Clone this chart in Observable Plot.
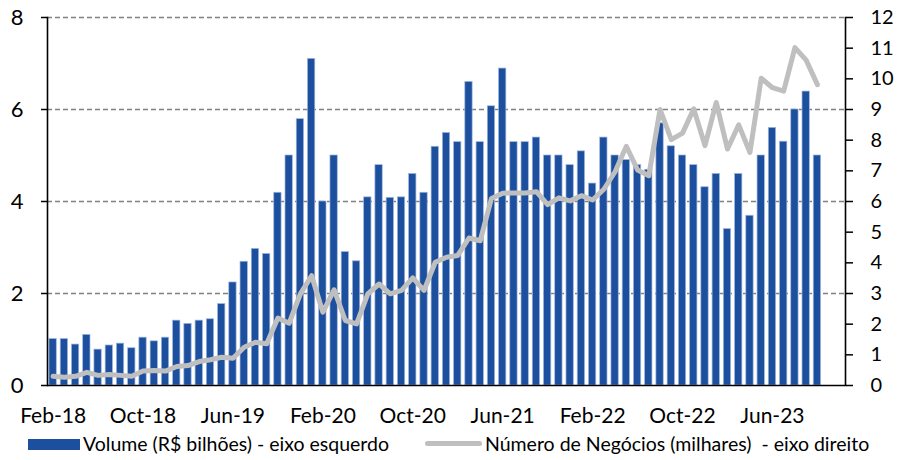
<!DOCTYPE html>
<html><head><meta charset="utf-8">
<script src="https://cdn.jsdelivr.net/npm/d3@7"></script>
<script src="https://cdn.jsdelivr.net/npm/@observablehq/plot@0.6"></script>
<style>
body{margin:0;background:#fff;font-family:Lato,sans-serif;}
#wrap{position:relative;width:898px;height:460px;overflow:hidden;background:#fff}
.leg{position:absolute;font-size:19.5px;color:#000;white-space:pre;line-height:20px;font-family:Lato,sans-serif}
.sw{position:absolute}
</style></head><body><div id="wrap"></div>
<script>
const months = [
"Feb-18","Mar-18","Apr-18","May-18","Jun-18","Jul-18","Aug-18","Sep-18","Oct-18","Nov-18","Dec-18",
"Jan-19","Feb-19","Mar-19","Apr-19","May-19","Jun-19","Jul-19","Aug-19","Sep-19","Oct-19","Nov-19","Dec-19",
"Jan-20","Feb-20","Mar-20","Apr-20","May-20","Jun-20","Jul-20","Aug-20","Sep-20","Oct-20","Nov-20","Dec-20",
"Jan-21","Feb-21","Mar-21","Apr-21","May-21","Jun-21","Jul-21","Aug-21","Sep-21","Oct-21","Nov-21","Dec-21",
"Jan-22","Feb-22","Mar-22","Apr-22","May-22","Jun-22","Jul-22","Aug-22","Sep-22","Oct-22","Nov-22","Dec-22",
"Jan-23","Feb-23","Mar-23","Apr-23","May-23","Jun-23","Jul-23","Aug-23","Sep-23","Oct-23","Nov-23","Dec-23"];

// Volume (R$ bilhões) - left axis
const volume = [1.01,1.01,0.89,1.10,0.78,0.87,0.91,0.81,1.04,0.96,1.04,
1.41,1.34,1.41,1.44,1.77,2.24,2.69,2.97,2.86,4.19,5.0,
5.79,7.10,4.0,5.0,2.9,2.7,4.09,4.79,4.08,4.09,4.6,
4.19,5.19,5.49,5.29,6.6,5.29,6.07,6.89,5.29,5.29,5.39,
5.0,5.0,4.79,5.09,4.39,5.39,5.0,4.9,4.79,4.69,5.7,
5.2,5.0,4.79,4.31,4.6,3.4,4.6,3.69,5.0,5.6,5.3,
6.0,6.39,5.0];

// Número de Negócios (milhares) - right axis
const trades = [0.30,0.27,0.30,0.43,0.33,0.36,0.33,0.30,0.47,0.49,0.47,
0.62,0.65,0.78,0.84,0.92,0.89,1.25,1.41,1.36,2.20,2.03,
2.99,3.58,2.39,3.12,2.12,2.01,2.99,3.31,2.99,3.10,3.51,
3.10,4.02,4.18,4.24,4.81,4.72,6.10,6.27,6.28,6.28,6.32,
5.90,6.12,6.02,6.19,6.05,6.40,6.97,7.8,7.03,6.84,9.0,
8.02,8.23,9.02,7.82,9.23,7.71,8.5,7.6,10.02,9.71,9.6,
11.02,10.61,9.81];

const xTickLabels = ["Feb-18","Oct-18","Jun-19","Feb-20","Oct-20","Jun-21","Feb-22","Oct-22","Jun-23"];
const leftTicks = [0,2,4,6,8];
const rightTicks = [0,1,2,3,4,5,6,7,8,9,10,11,12];
const leftMax = 8, rightMax = 12;

const bars = volume.map((v,i)=>({month:months[i], v}));
const line = trades.map((v,i)=>({month:months[i], v: v*leftMax/rightMax}));

const chart = Plot.plot({
  width:898, height:430, marginLeft:47, marginRight:53, marginTop:17, marginBottom:45,
  style:{fontFamily:"Lato, sans-serif", color:"#000", background:"#fff", overflow:"visible"},
  x:{type:"band", domain:months, paddingInner:0.35, paddingOuter:0.175, round:false, axis:null},
  y:{domain:[0,leftMax], axis:null},
  marks:[
    Plot.ruleY(leftTicks.slice(1), {stroke:"#808080", strokeWidth:1.4, strokeDasharray:"5,3"}),
    Plot.barY(bars, {x:"month", y:"v", fill:"#1d4f9f", stroke:"#9fb6dd", strokeWidth:0.7}),
    Plot.lineY(line, {x:"month", y:"v", stroke:"#bfbfbf", strokeWidth:5, strokeLinejoin:"round", strokeLinecap:"round"}),
    Plot.ruleY([0], {stroke:"#000", strokeWidth:1.6}),
    Plot.frame({anchor:"left", stroke:"#000", strokeWidth:1.6}),
    Plot.frame({anchor:"right", stroke:"#000", strokeWidth:1.6}),
    Plot.axisY({anchor:"left", label:null, ticks:leftTicks, tickSize:6, tickPadding:18, fontSize:22, strokeWidth:1.5, tickFormat:d=>String(d)}),
    Plot.axisY({anchor:"right", label:null, ticks:rightTicks.map(t=>t*leftMax/rightMax), tickSize:7, tickPadding:18, fontSize:20, strokeWidth:1.5, tickFormat:d=>String(Math.round(d*rightMax/leftMax))}),
    Plot.axisX({label:null, ticks:xTickLabels, tickSize:0, tickPadding:23, fontSize:21})
  ]
});
const wrap = document.getElementById("wrap");
wrap.appendChild(chart);

function addLeg(cls, style, text){
  const d = document.createElement("div");
  d.className = cls;
  Object.assign(d.style, style);
  if (text) d.textContent = text;
  wrap.appendChild(d);
}
addLeg("sw", {left:"28px", top:"439px", width:"52px", height:"11px", background:"#1d4f9f"});
addLeg("leg", {left:"83px", top:"434px"}, "Volume (R$ bilhões) - eixo esquerdo");
addLeg("sw", {left:"425px", top:"441px", width:"57px", height:"5px", background:"#bfbfbf", borderRadius:"3px"});
addLeg("leg", {left:"485px", top:"434px"}, "Número de Negócios (milhares)  - eixo direito");
</script></body></html>
